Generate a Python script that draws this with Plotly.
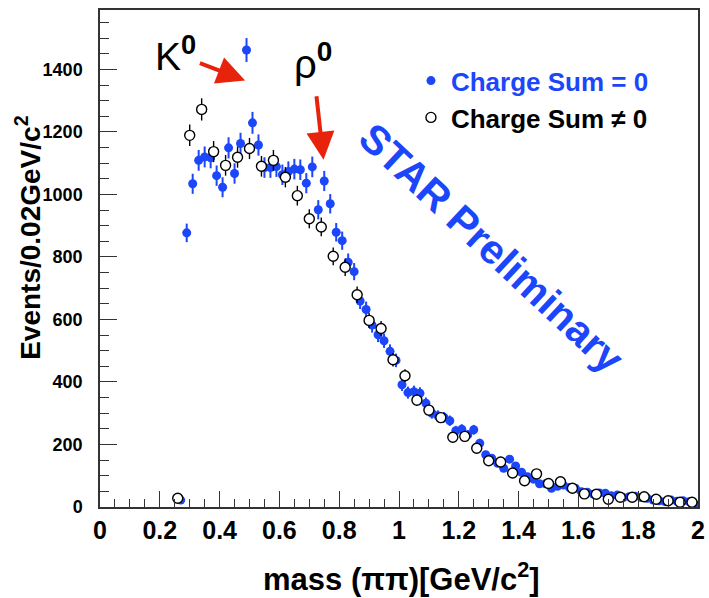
import numpy as np
import plotly.graph_objects as go

# pi+pi- invariant mass spectrum, 0.02 GeV/c^2 bins
mass_q0 = np.round(np.arange(0.27, 1.999, 0.02), 2)
counts_q0 = [
    22, 877, 1034, 1109, 1120, 1117, 1060, 1023, 1149, 1067,
    1163, 1462, 1229, 1158, 1086, 1086, 1089, 1063, 1073, 1081,
    1079, 1036, 1088, 951, 1043, 970, 879, 852, 783, 753,
    659, 632, 582, 551, 532, 498, 469,
    391, 366, 369, 364, 332, 300, 292, 287, 276, 244,
    249, 231, 247, 204, 167, 156, 140, 124, 153, 131,
    111, 97, 89, 74, 74, 60, 66, 70, 62, 60,
    49, 47, 41, 45, 44, 36, 38, 30, 33, 34,
    30, 28, 22, 20, 17, 22, 18, 20, 17, 8,
]

# like-sign pairs, 0.04 GeV/c^2 spacing
mass_qn = np.round(np.arange(0.26, 1.999, 0.04), 2)
counts_qn = [
    28, 1189, 1272, 1137, 1093, 1119, 1147, 1090, 1109, 1055,
    996, 922, 896, 802, 767, 679, 597, 571, 471, 420,
    342, 310, 286, 223, 226, 188, 148, 144, 109, 84,
    106, 75, 81, 60, 42, 41, 25, 31, 31, 33,
    25, 20, 15, 15,
]

x_ticks = [0, 0.2, 0.4, 0.6, 0.8, 1, 1.2, 1.4, 1.6, 1.8, 2]
x_tick_text = ["0", "0.2", "0.4", "0.6", "0.8", "1", "1.2", "1.4", "1.6", "1.8", "2"]
y_ticks = [0, 200, 400, 600, 800, 1000, 1200, 1400]

BLUE = "#1c46fa"
RED = "#e8230c"
TICK_FONT = "Liberation Sans Narrow, Arial Narrow, Liberation Sans, Arial"
MAIN_FONT = "Liberation Sans, Arial, Helvetica"

fig = go.Figure()

fig.add_trace(go.Scatter(
    x=mass_q0, y=counts_q0, mode="markers",
    name="<b><span style='color:%s'>Charge Sum = 0</span></b>" % BLUE,
    marker=dict(symbol="circle", size=9, color=BLUE, line=dict(width=0)),
    error_y=dict(type="data", array=np.sqrt(counts_q0), width=0,
                 thickness=2, color=BLUE),
))

fig.add_trace(go.Scatter(
    x=mass_qn, y=counts_qn, mode="markers",
    name="<b>Charge Sum \u2260 0</b>",
    marker=dict(symbol="circle", size=10, color="white",
                line=dict(width=1.4, color="black")),
    error_y=dict(type="data", array=np.sqrt(counts_qn), width=0,
                 thickness=1.4, color="black"),
    error_x=dict(type="constant", value=0.017, width=0,
                 thickness=1.4, color="black"),
))

axis_common = dict(
    showgrid=False, zeroline=False, showline=True, mirror=True,
    linecolor="#333333", linewidth=1.5, ticks="inside",
    tickcolor="#333333", tickwidth=1.3,
)

fig.update_xaxes(
    range=[0, 2], tickvals=x_ticks, ticktext=x_tick_text, ticklen=16,
    ticklabeloverflow="allow",
    tickfont=dict(family=TICK_FONT, size=25, color="black", weight="bold"),
    minor=dict(dtick=0.05, ticks="inside", ticklen=8, tickcolor="#333333",
               tickwidth=1.2, showgrid=False),
    **axis_common,
)
fig.update_yaxes(
    range=[0, 1590], tickvals=y_ticks, ticklen=17,
    ticklabelstandoff=12,
    tickfont=dict(family=TICK_FONT, size=18, color="black", weight="bold"),
    minor=dict(dtick=50, ticks="inside", ticklen=9, tickcolor="#333333",
               tickwidth=1.2, showgrid=False),
    **axis_common,
)

annotations = [
    # axis titles
    dict(text="<b>Events/0.02GeV/c<sup>2</sup></b>", xref="paper", yref="paper",
         x=-0.1203, y=0.5417, textangle=-90, showarrow=False,
         font=dict(family=MAIN_FONT, size=28, color="black"),
         xanchor="center", yanchor="middle"),
    dict(text="<b>mass (\u03c0\u03c0)[GeV/c<sup>2</sup>]</b>", xref="paper", yref="paper",
         x=0.5043, y=-0.1417, showarrow=False,
         font=dict(family=MAIN_FONT, size=31, color="black"),
         xanchor="center", yanchor="middle"),
    # resonance labels with arrows pointing at the peaks
    dict(text="K<sup><b>0</b></sup>", xref="paper", yref="paper",
         x=0.2427, y=0.858, ax=-70, ay=-27, showarrow=True,
         arrowhead=2, arrowsize=1.4, arrowwidth=4, arrowcolor=RED,
         startstandoff=3,
         font=dict(family=MAIN_FONT, size=39, color="black"),
         xanchor="center", yanchor="middle"),
    dict(text="\u03c1<sup><b>0</b></sup>", xref="paper", yref="paper",
         x=0.3738, y=0.6985, ax=-11, ay=-99, showarrow=True,
         arrowhead=2, arrowsize=1.4, arrowwidth=4, arrowcolor=RED,
         startstandoff=9,
         font=dict(family=MAIN_FONT, size=40, color="black"),
         xanchor="center", yanchor="middle"),
    # watermark
    dict(text="<b>STAR Preliminary</b>", xref="paper", yref="paper",
         x=0.6547, y=0.5216, textangle=43, showarrow=False,
         font=dict(family=MAIN_FONT, size=41, color=BLUE),
         xanchor="center", yanchor="middle"),
]

fig.update_layout(
    width=709, height=598,
    margin=dict(l=100, r=4, t=10, b=91),
    paper_bgcolor="white", plot_bgcolor="white",
    showlegend=True,
    legend=dict(x=0.52, y=0.905, xanchor="left", yanchor="top",
                bgcolor="rgba(0,0,0,0)", borderwidth=0,
                font=dict(family=MAIN_FONT, size=26, color="black"),
                tracegroupgap=2),
    annotations=annotations,
)

fig.write_html("out.html")
